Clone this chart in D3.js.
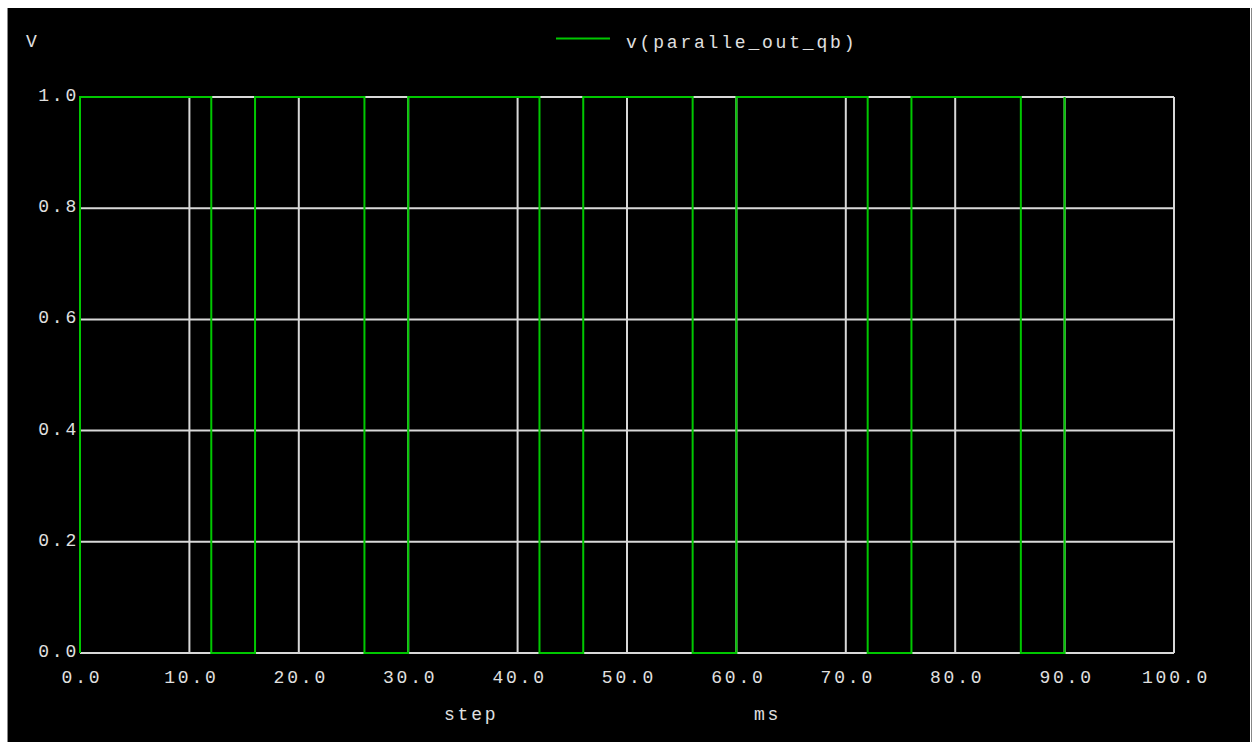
<!DOCTYPE html>
<html>
<head>
<meta charset="utf-8">
<script src="https://cdn.jsdelivr.net/npm/d3@7"></script>
<style>
  body { margin: 0; background: #fff; }
  svg { display: block; }
  text { font-family: "Liberation Mono", "DejaVu Sans Mono", monospace; font-size: 18px; fill: #e0e0e0; letter-spacing: 2.8px; }
</style>
</head>
<body>
<div class="chart"></div>
<script>
// step trace v(paralle_out_qb): time of each change (ms) and level after it
var times = [0, 0, 12, 16, 26, 30, 42, 46, 56, 60, 72, 76, 86, 90];
var levels = [0, 1, 0, 1, 0, 1, 0, 1, 0, 1, 0, 1, 0, 1];
var xTicks = [0, 10, 20, 30, 40, 50, 60, 70, 80, 90, 100];
var yTicks = [0, 0.2, 0.4, 0.6, 0.8, 1.0];
var seriesName = "v(paralle_out_qb)";

var W = 1253, H = 742;
var svg = d3.select(".chart").append("svg")
    .attr("width", W)
    .attr("height", H);

// black panel with thin grey edges
svg.append("rect").attr("x", 8).attr("y", 8).attr("width", 1242).attr("height", H - 8).attr("fill", "#000");
svg.append("line").attr("x1", 7.5).attr("x2", 7.5).attr("y1", 8).attr("y2", H).attr("stroke", "#888");
svg.append("line").attr("x1", 1251.5).attr("x2", 1251.5).attr("y1", 8).attr("y2", H).attr("stroke", "#888");

var x = d3.scaleLinear().domain([0, 100]).range([80, 1174]);
var y = d3.scaleLinear().domain([0, 1]).range([653, 97]);

var grid = svg.append("g");
grid.selectAll(".vg").data(xTicks).enter().append("line")
    .attr("x1", d => x(d)).attr("x2", d => x(d))
    .attr("y1", y(0)).attr("y2", y(1))
    .attr("stroke", "#d8d8d8").attr("stroke-width", 2);
grid.selectAll(".hg").data(yTicks).enter().append("line")
    .attr("x1", x(0)).attr("x2", x(100))
    .attr("y1", d => y(d)).attr("y2", d => y(d))
    .attr("stroke", "#d8d8d8").attr("stroke-width", 2);

svg.selectAll(".xl").data(xTicks).enter().append("text")
    .attr("x", d => x(d) + 2)
    .attr("y", 683)
    .attr("text-anchor", "middle")
    .text(d => d.toFixed(1));

svg.selectAll(".yl").data(yTicks).enter().append("text")
    .attr("x", 79)
    .attr("y", d => y(d) + 4)
    .attr("text-anchor", "end")
    .text(d => d.toFixed(1));

svg.append("text").attr("x", 26).attr("y", 47).text("V");
svg.append("text").attr("x", 444).attr("y", 720).text("step");
svg.append("text").attr("x", 754).attr("y", 720).text("ms");

// legend
svg.append("line").attr("x1", 556).attr("x2", 610).attr("y1", 38.5).attr("y2", 38.5)
    .attr("stroke", "#00c800").attr("stroke-width", 2);
svg.append("text").attr("x", 626).attr("y", 48).text(seriesName);

var pts = times.map((t, i) => [t, levels[i]]);
var line = d3.line()
    .x(d => x(d[0]))
    .y(d => y(d[1]))
    .curve(d3.curveStepAfter);

svg.append("path")
    .attr("d", line(pts))
    .attr("fill", "none")
    .attr("stroke", "#00c800")
    .attr("stroke-width", 2);
</script>
</body>
</html>
